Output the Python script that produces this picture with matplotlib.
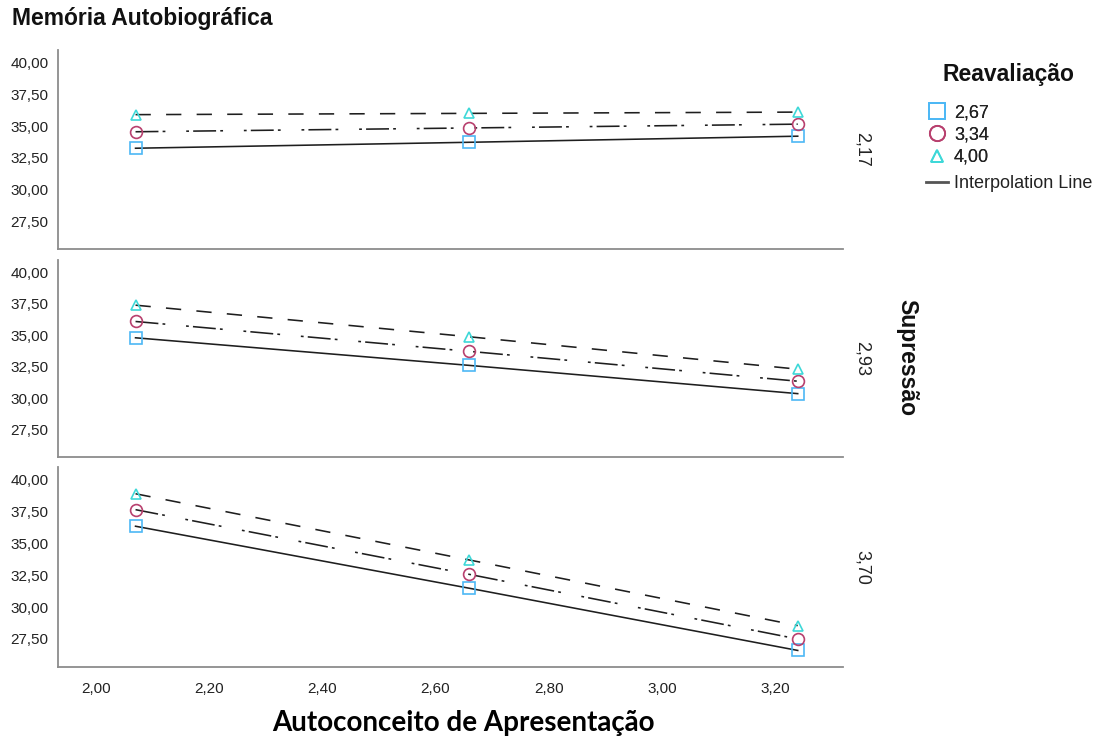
import matplotlib
matplotlib.use("Agg")
import matplotlib.pyplot as plt
from matplotlib.lines import Line2D

plt.rcParams['font.family'] = ['Liberation Sans', 'DejaVu Sans']
plt.rcParams['lines.scale_dashes'] = False

# ---- data ----
x_vals = [2.07, 2.66, 3.24]
x_ticks = [2.00, 2.20, 2.40, 2.60, 2.80, 3.00, 3.20]
y_ticks = [27.5, 30.0, 32.5, 35.0, 37.5, 40.0]
supressao_levels = ['2,17', '2,93', '3,70']
reaval_levels = ['2,67', '3,34', '4,00']

sup217_r267 = [33.25, 33.72, 34.20]
sup217_r334 = [34.55, 34.85, 35.15]
sup217_r400 = [35.90, 36.00, 36.10]

sup293_r267 = [34.80, 32.60, 30.35]
sup293_r334 = [36.10, 33.72, 31.34]
sup293_r400 = [37.40, 34.88, 32.30]

sup370_r267 = [36.35, 31.48, 26.60]
sup370_r334 = [37.65, 32.57, 27.50]
sup370_r400 = [38.90, 33.70, 28.55]

panels = [
    [sup217_r267, sup217_r334, sup217_r400],
    [sup293_r267, sup293_r334, sup293_r400],
    [sup370_r267, sup370_r334, sup370_r400],
]

# ---- styles ----
marker_styles = ['s', 'o', '^']
marker_colors = ['#4db8f5', '#b8406e', '#3ed8d8']
marker_sizes = [8.5, 8.5, 7]
legend_marker_sizes = [11, 11, 9]
dash_styles = ['-', (0, (16.5, 3, 2, 15, 2, 3)), (0, (11, 11))]
line_color = '#1e1e1e'
spine_color = '#8c8c8c'

W, H = 1105, 740
fig = plt.figure(figsize=(W / 100, H / 100), dpi=100)

def fmt(v):
    return f"{v:.2f}".replace('.', ',')

left_px, right_px = 58, 843
panel_px = [(50, 249), (260, 457), (467, 667)]
axes = []
for i, (top, bot) in enumerate(panel_px):
    ax = fig.add_axes([left_px / W, 1 - bot / H, (right_px - left_px) / W, (bot - top) / H])
    axes.append(ax)
    for j, series in enumerate(panels[i]):
        ax.plot(x_vals, series, color=line_color, lw=1.15, linestyle=dash_styles[j], zorder=2)
        ax.plot(x_vals, series, linestyle='none', marker=marker_styles[j],
                markersize=marker_sizes[j], markerfacecolor='none',
                markeredgecolor=marker_colors[j], markeredgewidth=1.2, zorder=3)
    ax.set_xlim(1.933, 3.32)
    ax.set_ylim(25.3, 41.0)
    ax.set_yticks(y_ticks)
    ax.set_yticklabels([fmt(v) for v in y_ticks], fontsize=11, color='#222222')
    ax.set_xticks(x_ticks)
    if i == 2:
        ax.set_xticklabels([fmt(v) for v in x_ticks], fontsize=11, color='#222222')
    else:
        ax.set_xticklabels([])
    ax.tick_params(axis='y', length=0, pad=7)
    ax.tick_params(axis='x', length=0, pad=11)
    for s in ['top', 'right']:
        ax.spines[s].set_visible(False)
    for s in ['left', 'bottom']:
        ax.spines[s].set_color(spine_color)
        ax.spines[s].set_linewidth(1.3)
    fig.text(862 / W, 1 - (top + bot) / 2 / H, supressao_levels[i], rotation=-90,
             fontsize=13, va='center', ha='center', color='#222222')

fig.text(12 / W, 1 - 19 / H, 'Memória Autobiográfica', fontsize=16.5, fontweight='bold',
         ha='left', va='center', color='#111111')
fig.text(907 / W, 1 - 358 / H, 'Supressão', fontsize=16.5, fontweight='bold', rotation=-90,
         ha='center', va='center', color='#111111')
fig.text(463 / W, 1 - 723 / H, 'Autoconceito de Apresentação', fontsize=20, fontweight='bold',
         ha='center', va='center', family=['Lato', 'DejaVu Sans'], color='#000000')

# ---- legend ----
fig.text(1008 / W, 1 - 75 / H, 'Reavaliação', fontsize=16.5, fontweight='bold',
         ha='center', va='center', color='#111111')
handles = [Line2D([], [], linestyle='none', marker=marker_styles[j], markersize=legend_marker_sizes[j],
                  markerfacecolor='none', markeredgecolor=marker_colors[j], markeredgewidth=1.3)
           for j in range(3)]
leg1 = fig.legend(handles, reaval_levels, loc='upper left', bbox_to_anchor=(926 / W, 1 - 104 / H),
                  frameon=False, fontsize=13, handlelength=1.2, handletextpad=0.35,
                  labelspacing=0.3, borderaxespad=0, borderpad=0, labelcolor='#222222')
line_handle = [Line2D([], [], color='#555555', lw=2)]
leg2 = fig.legend(line_handle, ['Interpolation Line'], loc='upper left',
                  bbox_to_anchor=(926 / W, 1 - 175 / H), frameon=False, fontsize=13,
                  handlelength=1.2, handletextpad=0.35, borderaxespad=0, borderpad=0,
                  labelcolor='#222222')
fig.add_artist(leg1)

fig.savefig('out.png', dpi=100, facecolor='white')
